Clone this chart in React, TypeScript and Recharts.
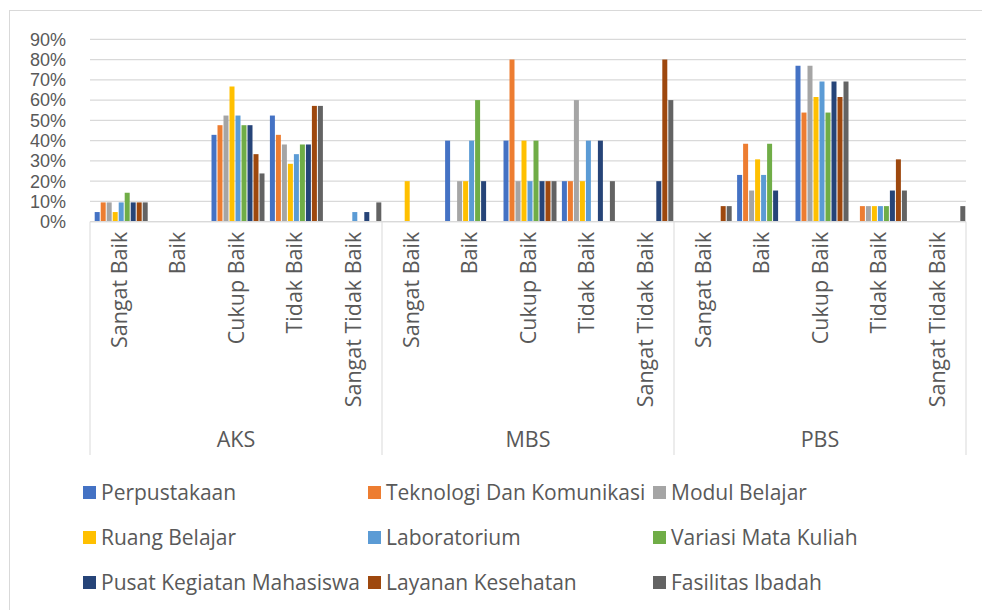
import React from 'react';
import { BarChart, Bar, XAxis, YAxis, CartesianGrid, Legend } from 'recharts';

const groups = ['AKS', 'MBS', 'PBS'];
const ratings = ['Sangat Baik', 'Baik', 'Cukup Baik', 'Tidak Baik', 'Sangat Tidak Baik'];
const yTicks = [0, 10, 20, 30, 40, 50, 60, 70, 80, 90];

const seriesNames = [
  'Perpustakaan',
  'Teknologi Dan Komunikasi',
  'Modul Belajar',
  'Ruang Belajar',
  'Laboratorium',
  'Variasi Mata Kuliah',
  'Pusat Kegiatan Mahasiswa',
  'Layanan Kesehatan',
  'Fasilitas Ibadah',
];
const seriesColors = ['#4472C4', '#ED7D31', '#A5A5A5', '#FFC000', '#5B9BD5', '#70AD47', '#264478', '#9E480E', '#636363'];

// order: AKS (5 ratings), MBS (5 ratings), PBS (5 ratings), in percent
const perpustakaan = [4.76, 0, 42.86, 52.38, 0, 0, 40, 40, 20, 0, 0, 23.08, 76.92, 0, 0];
const teknologi = [9.52, 0, 47.62, 42.86, 0, 0, 0, 80, 20, 0, 0, 38.46, 53.85, 7.69, 0];
const modulBelajar = [9.52, 0, 52.38, 38.1, 0, 0, 20, 20, 60, 0, 0, 15.38, 76.92, 7.69, 0];
const ruangBelajar = [4.76, 0, 66.67, 28.57, 0, 20, 20, 40, 20, 0, 0, 30.77, 61.54, 7.69, 0];
const laboratorium = [9.52, 0, 52.38, 33.33, 4.76, 0, 40, 20, 40, 0, 0, 23.08, 69.23, 7.69, 0];
const variasiMataKuliah = [14.29, 0, 47.62, 38.1, 0, 0, 60, 40, 0, 0, 0, 38.46, 53.85, 7.69, 0];
const pusatKegiatan = [9.52, 0, 47.62, 38.1, 4.76, 0, 20, 20, 40, 20, 0, 15.38, 69.23, 15.38, 0];
const layananKesehatan = [9.52, 0, 33.33, 57.14, 0, 0, 0, 20, 0, 80, 7.69, 0, 61.54, 30.77, 0];
const fasilitasIbadah = [9.52, 0, 23.81, 57.14, 9.52, 0, 0, 20, 20, 60, 7.69, 0, 69.23, 15.38, 7.69];

const seriesValues = [
  perpustakaan,
  teknologi,
  modulBelajar,
  ruangBelajar,
  laboratorium,
  variasiMataKuliah,
  pusatKegiatan,
  layananKesehatan,
  fasilitasIbadah,
];

const data = groups.flatMap((g, gi) =>
  ratings.map((r, ri) => {
    const row: Record<string, any> = { key: `${g}|${r}`, group: g, rating: r };
    seriesValues.forEach((vals, si) => {
      row[`s${si}`] = vals[gi * 5 + ri];
    });
    return row;
  })
);

const W = 982;
const H = 610;
const TEXT = '#595959';
const LINE = '#d9d9d9';
const FONT = "'Open Sans', sans-serif";
const Y_FONT = "'Liberation Sans', Arial, sans-serif";
const FS = 21.5;
const PLOT_BOTTOM = 221.7;
const CAT_AXIS_H = 193.3;
const GROUP_AXIS_H = 40;
const LEGEND_H = 150;

const CategoryTick = (props: any) => {
  const { x, y, payload } = props;
  const label = String(payload.value).split('|')[1];
  return (
    <text
      x={x}
      y={y}
      transform={`rotate(-90, ${x}, ${y})`}
      textAnchor="end"
      dy="0.36em"
      fontSize={FS}
      fill={TEXT}
      fontFamily={FONT}
    >
      {label}
    </text>
  );
};

const GroupTick = (props: any) => {
  const { x, payload, index } = props;
  const half = payload && typeof payload.offset === 'number' && payload.offset > 0 ? payload.offset : 29.2;
  const pos = index % 5;
  const groupName = String(payload.value).split('|')[0];
  const top = PLOT_BOTTOM;
  const bottom = PLOT_BOTTOM + CAT_AXIS_H + GROUP_AXIS_H;
  return (
    <g>
      {pos === 0 && <line x1={x - half} x2={x - half} y1={top} y2={bottom} stroke={LINE} strokeWidth={1} />}
      {index === data.length - 1 && (
        <line x1={x + half} x2={x + half} y1={top} y2={bottom} stroke={LINE} strokeWidth={1} />
      )}
      {pos === 2 && (
        <text
          x={x}
          y={PLOT_BOTTOM + CAT_AXIS_H + 24}
          textAnchor="middle"
          dy="0.36em"
          fontSize={FS}
          fill={TEXT}
          fontFamily={FONT}
        >
          {groupName}
        </text>
      )}
    </g>
  );
};

const LEG_X = [83, 368, 653];
const LEG_FS = 21;

const LegendContent = () => (
  <div style={{ position: 'relative', width: W, height: LEGEND_H, fontFamily: FONT }}>
    {seriesNames.map((n, i) => {
      const col = i % 3;
      const row = Math.floor(i / 3);
      return (
        <div
          key={n}
          style={{
            position: 'absolute',
            left: LEG_X[col],
            top: 37 + row * 45 - 14,
            height: 28,
            display: 'flex',
            alignItems: 'center',
            whiteSpace: 'nowrap',
          }}
        >
          <span style={{ display: 'inline-block', width: 13, height: 13, background: seriesColors[i], marginRight: 5 }} />
          <span style={{ fontSize: LEG_FS, color: TEXT, lineHeight: '28px' }}>{n}</span>
        </div>
      );
    })}
  </div>
);

export default function App() {
  return (
    <div
      style={{
        position: 'fixed',
        left: 0,
        top: 0,
        width: W,
        height: H,
        overflow: 'hidden',
        background: '#fff',
        fontFamily: FONT,
      }}
    >
      <div
        style={{
          position: 'absolute',
          left: 9,
          top: 10,
          width: 1100,
          height: 800,
          border: `1px solid ${LINE}`,
          boxSizing: 'border-box',
        }}
      />
      <div style={{ position: 'absolute', left: 0, top: 0 }}>
        <BarChart
          width={W}
          height={H}
          data={data}
          margin={{ top: 39.3, right: 16, bottom: 5, left: 0 }}
          barCategoryGap={4.7}
          barGap={1}
        >
          <CartesianGrid vertical={false} stroke={LINE} strokeWidth={1.2} />
          <YAxis
            type="number"
            domain={[0, 90]}
            ticks={yTicks}
            interval={0}
            width={90}
            axisLine={false}
            tickLine={false}
            tickSize={0}
            tickMargin={24}
            tickFormatter={(v: number) => `${v}%`}
            tick={{ fontSize: 18, fill: TEXT, fontFamily: Y_FONT }}
          />
          <XAxis
            dataKey="key"
            type="category"
            interval={0}
            height={CAT_AXIS_H}
            axisLine={{ stroke: LINE, strokeWidth: 1.2 }}
            tickLine={false}
            tickSize={0}
            tickMargin={10}
            tick={<CategoryTick />}
          />
          <XAxis
            xAxisId="g"
            dataKey="key"
            type="category"
            interval={0}
            height={GROUP_AXIS_H}
            axisLine={false}
            tickLine={false}
            tickSize={0}
            tickMargin={0}
            tick={<GroupTick />}
          />
          <Legend verticalAlign="bottom" align="left" content={<LegendContent />} wrapperStyle={{ left: 0, width: W }} />
          {seriesNames.map((n, i) => (
            <Bar key={n} dataKey={`s${i}`} name={n} fill={seriesColors[i]} isAnimationActive={false} />
          ))}
        </BarChart>
      </div>
    </div>
  );
}
